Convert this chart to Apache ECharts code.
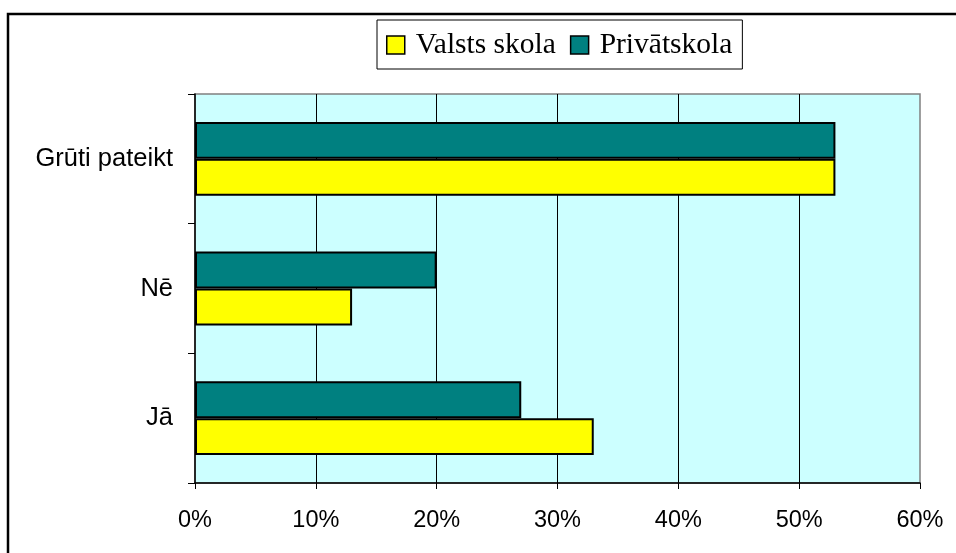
<!DOCTYPE html>
<html><head><meta charset="utf-8">
<script src="https://cdn.jsdelivr.net/npm/echarts@6/dist/echarts.min.js"></script>
<style>html,body{margin:0;padding:0;background:#fff}#c{width:956px;height:553px}</style>
</head><body><div id="c"></div>
<script>
const categories = ['Jā', 'Nē', 'Grūti pateikt'];
const valstsSkola = [33, 13, 53];
const privatskola = [27, 20, 53];
const xTicks = [0, 10, 20, 30, 40, 50, 60];
const seriesNames = ['Valsts skola', 'Privātskola'];

const chart = echarts.init(document.getElementById('c'), null, {renderer: 'canvas'});
chart.setOption({
  animation: false,
  backgroundColor: '#fff',
  graphic: [{
    type: 'rect', shape: {x: 8, y: 14, width: 1000, height: 1000},
    style: {fill: 'none', stroke: '#000', lineWidth: 2.5}, z: 100
  }],
  legend: {
    data: seriesNames,
    left: 377, top: 20,
    itemWidth: 18, itemHeight: 18, itemGap: 14,
    padding: [10, 10, 9, 9],
    borderColor: '#000', borderWidth: 1,
    icon: 'rect',
    itemStyle: {borderColor: '#000', borderWidth: 1.5},
    textStyle: {fontFamily: 'Liberation Serif', fontSize: 29.5, color: '#000', padding: [0, 0, 0, 6]}
  },
  grid: {
    left: 195, right: 36, top: 94, bottom: 70,
    show: true, backgroundColor: '#CCFFFF', borderColor: '#808080', borderWidth: 1.5
  },
  xAxis: {
    type: 'value', min: xTicks[0], max: xTicks[xTicks.length - 1], interval: 10,
    axisLine: {show: true, lineStyle: {color: '#000', width: 1.5}},
    axisTick: {show: true, length: 6, lineStyle: {color: '#000'}},
    splitLine: {show: true, showMinLine: false, showMaxLine: false, lineStyle: {color: '#000', width: 1}},
    axisLabel: {formatter: '{value}%', fontFamily: 'Liberation Sans', fontSize: 23.5, color: '#000', margin: 26}
  },
  yAxis: {
    type: 'category', data: categories,
    axisLine: {show: true, lineStyle: {color: '#000', width: 1.5}},
    axisTick: {show: true, length: 7, lineStyle: {color: '#000'}},
    axisLabel: {fontFamily: 'Liberation Sans', fontSize: 25.5, color: '#000', margin: 22}
  },
  series: [
    {name: seriesNames[1], type: 'bar', data: privatskola, barGap: '0%', barCategoryGap: '43%',
     itemStyle: {color: '#008080', borderColor: '#000', borderWidth: 2}},
    {name: seriesNames[0], type: 'bar', data: valstsSkola, barGap: '0%', barCategoryGap: '43%',
     itemStyle: {color: '#FFFF00', borderColor: '#000', borderWidth: 2}}
  ]
});
</script></body></html>
